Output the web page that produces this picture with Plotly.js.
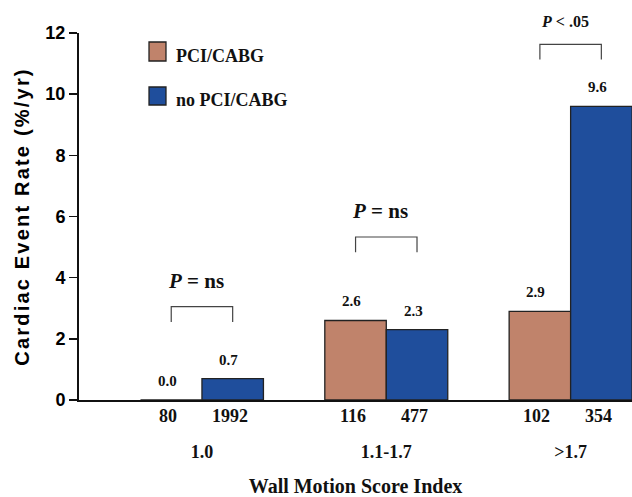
<!DOCTYPE html>
<html>
<head>
<meta charset="utf-8">
<script src="https://cdn.plot.ly/plotly-3.0.1.min.js"></script>
<style>
html, body { margin: 0; padding: 0; background: #fff; }
#chart { width: 632px; height: 497px; }
.ytitle { letter-spacing: 2.2px; }
.ytick text, .xtick text { font-weight: bold !important; }
</style>
</head>
<body>
<div id="chart"></div>
<script>
// ---- data ----
var categories = ['1.0', '1.1-1.7', '>1.7'];
var seriesNames = ['PCI/CABG', 'no PCI/CABG'];
var pciRate = [0.0, 2.6, 2.9];
var noPciRate = [0.7, 2.3, 9.6];
var pciN = ['80', '116', '102'];
var noPciN = ['1992', '477', '354'];
var pText = ['<i>P</i> = ns', '<i>P</i> = ns', '<i>P</i> &lt; .05'];

// ---- styling / placement (not data) ----
var colPci = '#C0836B';
var colNo = '#1F4E9C';
var serif = 'Liberation Serif, Times New Roman, serif';
var sans = 'Liberation Sans, Arial, sans-serif';
var half = 1 / 6;
var bracketTop = [3.05, 5.33, 11.63];
var bracketDrop = 0.5;
var pTextShift = [26, 26, 23];
var pTextSize = [21, 21, 16];

var xIdx = categories.map(function (c, i) { return i; });

var traces = [
  {
    type: 'bar', name: seriesNames[0], x: xIdx, y: pciRate,
    marker: { color: colPci, line: { color: '#222', width: 1.3 } },
    hoverinfo: 'none'
  },
  {
    type: 'bar', name: seriesNames[1], x: xIdx, y: noPciRate,
    marker: { color: colNo, line: { color: '#222', width: 1.3 } },
    hoverinfo: 'none'
  }
];

var annotations = [];
var shapes = [];

xIdx.forEach(function (i) {
  // value labels
  [[pciRate[i], i - half], [noPciRate[i], i + half]].forEach(function (p) {
    annotations.push({
      x: p[1], y: p[0], xref: 'x', yref: 'y', text: p[0].toFixed(1),
      showarrow: false, yanchor: 'bottom', yshift: 9, xshift: -4,
      font: { family: serif, size: 15, color: '#111', weight: 'bold' }
    });
  });
  // counts under bars
  [[pciN[i], i - half], [noPciN[i], i + half]].forEach(function (p) {
    annotations.push({
      x: p[1], y: 0, xref: 'x', yref: 'y', text: p[0],
      showarrow: false, yanchor: 'middle', yshift: -16, xshift: -3,
      font: { family: serif, size: 18, color: '#111', weight: 'bold' }
    });
  });
  // bracket
  var x1 = i - half, x2 = i + half, yt = bracketTop[i], yb = yt - bracketDrop;
  shapes.push({
    type: 'path', xref: 'x', yref: 'y',
    path: 'M' + x1 + ',' + yb + ' L' + x1 + ',' + yt + ' L' + x2 + ',' + yt + ' L' + x2 + ',' + yb,
    line: { color: '#444', width: 1.2 }
  });
  // P text, placed above the bracket
  annotations.push({
    x: i, y: yt, xref: 'x', yref: 'y', text: pText[i],
    showarrow: false, yanchor: 'middle', xshift: -6, yshift: pTextShift[i],
    font: { family: serif, size: pTextSize[i], color: '#111', weight: 'bold' }
  });
});

// manual legend
var legendCols = [colPci, colNo];
var legendY = [[0.9237, 0.9755], [0.8038, 0.8529]];
var legendTextY = [0.9373, 0.8174];
seriesNames.forEach(function (name, k) {
  shapes.push({
    type: 'rect', xref: 'paper', yref: 'paper',
    x0: 0.1266, x1: 0.1573, y0: legendY[k][0], y1: legendY[k][1],
    fillcolor: legendCols[k], line: { color: '#222', width: 1.3 }
  });
  annotations.push({
    x: 0.1718, y: legendTextY[k], xref: 'paper', yref: 'paper', text: name,
    showarrow: false, xanchor: 'left', yanchor: 'middle',
    font: { family: serif, size: 18, color: '#111', weight: 'bold' }
  });
});

var layout = {
  width: 632, height: 497,
  margin: { l: 79, r: 0, t: 33, b: 97 },
  paper_bgcolor: '#fff', plot_bgcolor: '#fff',
  showlegend: false,
  barmode: 'group', bargap: 0.333, bargroupgap: 0,
  xaxis: {
    range: [-0.667, 2.333], tickvals: xIdx, ticktext: categories,
    ticks: '', showgrid: false, zeroline: false,
    showline: true, linecolor: '#111', linewidth: 2,
    ticklabelstandoff: 34,
    tickfont: { family: serif, size: 18, color: '#111', weight: 'bold' },
    title: { text: 'Wall Motion Score Index', standoff: 19,
             font: { family: serif, size: 20, color: '#111', weight: 'bold' } }
  },
  yaxis: {
    range: [0, 12], dtick: 2, tick0: 0,
    ticks: 'outside', ticklen: 8, tickwidth: 1.5, tickcolor: '#111',
    showgrid: false, zeroline: false,
    showline: true, linecolor: '#111', linewidth: 2,
    tickfont: { family: sans, size: 18, color: '#000', weight: 'bold' },
    title: { text: 'Cardiac Event Rate (%/yr)', standoff: 10,
             font: { family: sans, size: 20, color: '#000', weight: 'bold' } }
  },
  annotations: annotations,
  shapes: shapes
};

Plotly.newPlot('chart', traces, layout, { displayModeBar: false, staticPlot: true });
</script>
</body>
</html>
